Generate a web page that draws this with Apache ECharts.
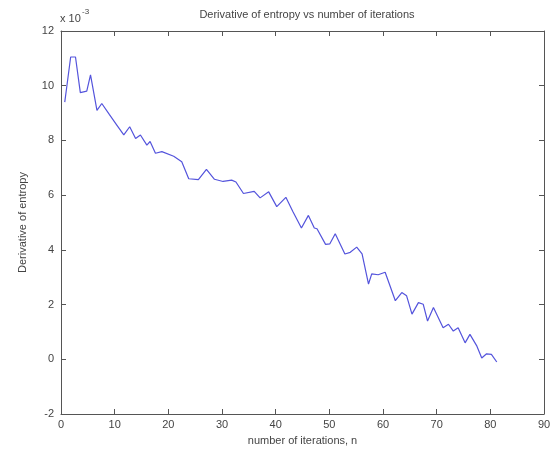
<!DOCTYPE html>
<html><head><meta charset="utf-8">
<script src="https://cdn.jsdelivr.net/npm/echarts@6/dist/echarts.min.js"></script>
<style>html,body{margin:0;padding:0;background:#fff}#c{width:556px;height:461px}</style>
</head><body><div id="c"></div>
<script>
// iterations (n) and derivative of entropy (x 10^-3)
const iterN = [0.7,1.1,1.8,2.7,3.6,4.8,5.5,6.7,7.6,9.0,10.4,11.7,12.8,13.9,14.8,16.0,16.6,17.6,18.8,21.0,22.5,23.8,25.6,27.1,28.6,30.2,31.8,32.6,34.0,36.0,37.1,38.7,40.2,41.9,43.2,44.8,46.1,47.2,47.7,49.3,50.1,51.1,52.9,53.9,55.1,56.1,57.3,57.9,59.1,60.4,62.3,63.5,64.4,65.4,66.6,67.5,68.3,69.4,71.2,72.2,73.1,74.0,75.3,76.2,77.5,78.4,79.3,80.2,81.2];
const derivEntropy = [9.4,10.0,11.05,11.05,9.75,9.8,10.4,9.1,9.35,8.95,8.56,8.2,8.5,8.07,8.2,7.83,7.96,7.53,7.59,7.42,7.22,6.6,6.57,6.94,6.58,6.5,6.55,6.48,6.06,6.14,5.9,6.12,5.58,5.92,5.4,4.8,5.26,4.8,4.77,4.2,4.22,4.59,3.85,3.91,4.1,3.85,2.75,3.12,3.09,3.18,2.14,2.44,2.32,1.65,2.07,2.01,1.4,1.89,1.15,1.28,1.03,1.15,0.6,0.91,0.48,0.05,0.2,0.18,-0.1];
const xTicks = [0,10,20,30,40,50,60,70,80,90];
const yTicks = [-2,0,2,4,6,8,10,12];

const font = 'Liberation Sans, Arial, sans-serif';
const axisCol = '#555';
const lblCol = '#444';
const baseAxis = {
  axisLine:{show:true,onZero:false,lineStyle:{color:axisCol,width:1}},
  axisTick:{show:true,inside:true,length:5,lineStyle:{color:axisCol}},
  splitLine:{show:false}
};
const chart = echarts.init(document.getElementById('c'));
chart.setOption({
  animation:false,
  backgroundColor:'#fff',
  title:{text:'Derivative of entropy vs number of iterations',left:302,top:4,textAlign:'center',
    textStyle:{fontFamily:font,fontSize:11,fontWeight:'normal',color:'#444'}},
  grid:{left:61,right:12,top:31,bottom:47},
  xAxis:[
    Object.assign({type:'value',min:xTicks[0],max:xTicks[xTicks.length-1],interval:10,position:'bottom',
      name:'number of iterations, n',nameLocation:'middle',nameGap:21,
      nameTextStyle:{fontFamily:font,fontSize:11,color:lblCol},
      axisLabel:{fontFamily:font,fontSize:11,color:lblCol,margin:5}},baseAxis),
    Object.assign({type:'value',min:0,max:90,interval:10,position:'top',axisLabel:{show:false}},baseAxis)
  ],
  yAxis:[
    Object.assign({type:'value',min:yTicks[0],max:yTicks[yTicks.length-1],interval:2,position:'left',
      name:'Derivative of entropy',nameLocation:'middle',nameGap:33,
      nameTextStyle:{fontFamily:font,fontSize:11,color:lblCol},
      axisLabel:{fontFamily:font,fontSize:11,color:lblCol,margin:7}},baseAxis),
    Object.assign({type:'value',min:-2,max:12,interval:2,position:'right',axisLabel:{show:false}},baseAxis)
  ],
  graphic:[
    {type:'text',left:60,top:13,style:{text:'x 10',fontFamily:font,fontSize:11,fill:lblCol}},
    {type:'text',left:82,top:8,style:{text:'-3',fontFamily:font,fontSize:8,fill:lblCol}}
  ],
  series:[{
    type:'line',xAxisIndex:0,yAxisIndex:0,
    data:iterN.map((n,i)=>[n,derivEntropy[i]]),
    showSymbol:false,symbol:'none',
    lineStyle:{color:'#5454dc',width:1.2}
  }]
});
</script></body></html>
